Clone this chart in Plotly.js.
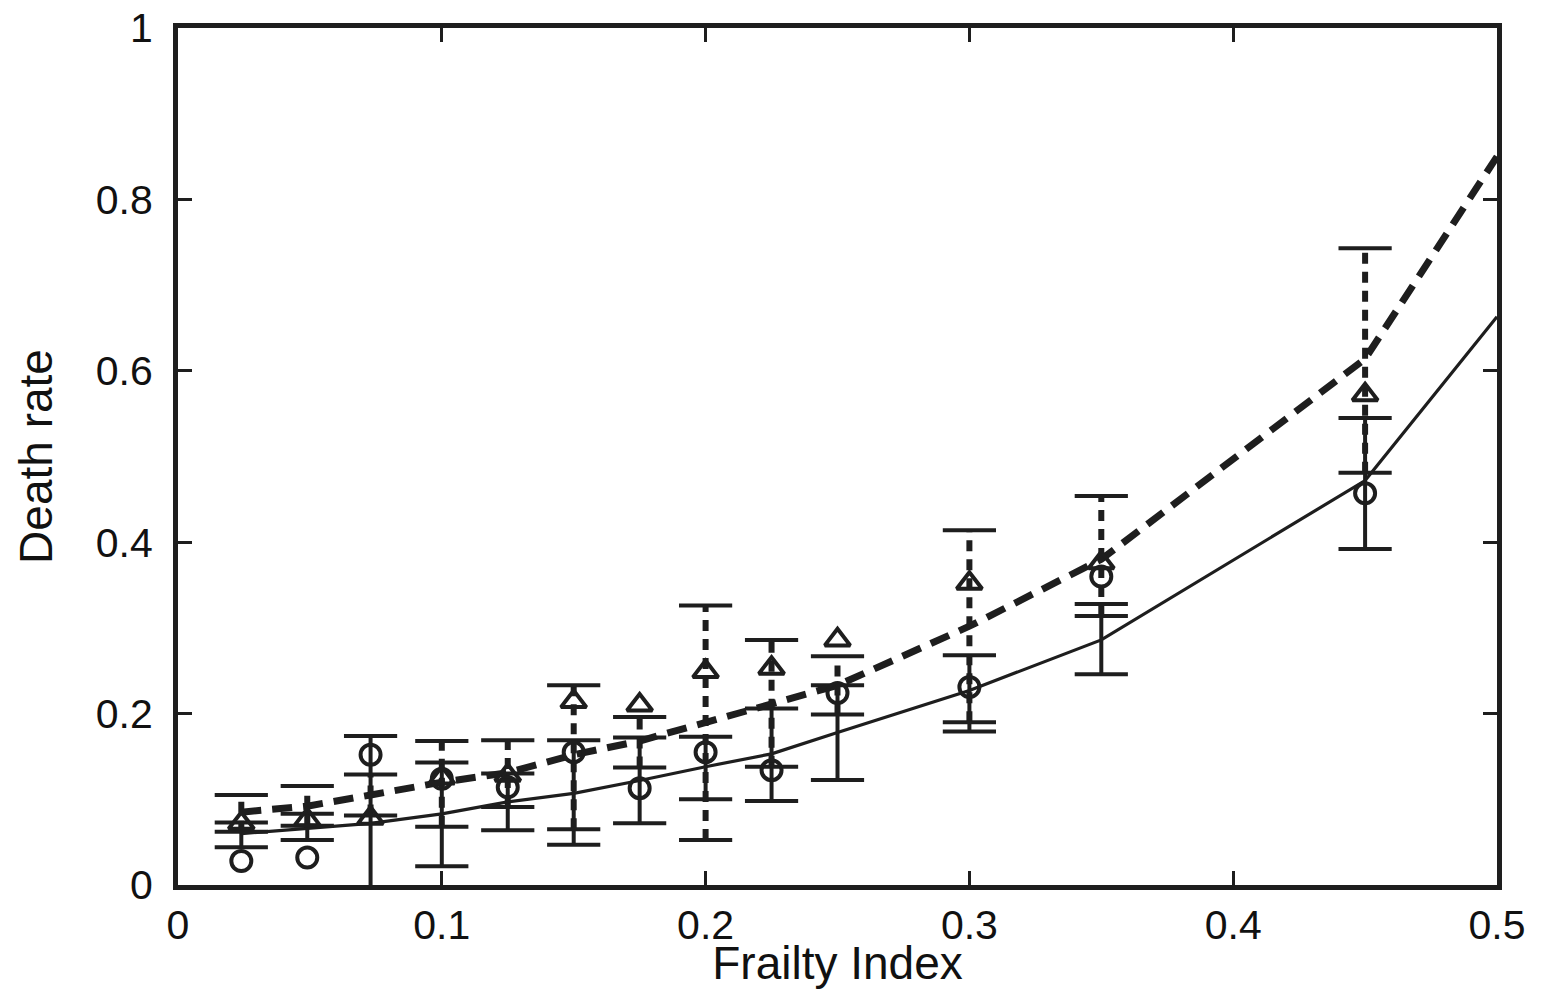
<!DOCTYPE html>
<html>
<head>
<meta charset="utf-8">
<script src="https://cdn.plot.ly/plotly-3.0.1.min.js"></script>
<style>html,body{margin:0;padding:0;background:#fff;}#chart{width:1543px;height:989px;}</style>
</head>
<body>
<div id="chart"></div>
<script>
// Frailty index values at which data are shown
const frailty = [0.024, 0.049, 0.073, 0.1, 0.125, 0.15, 0.175, 0.2, 0.225, 0.25, 0.3, 0.35, 0.45];
// Model curves (polylines), include end point at 0.5
const curveX = [0.024, 0.049, 0.073, 0.1, 0.125, 0.15, 0.175, 0.2, 0.225, 0.25, 0.3, 0.35, 0.45, 0.5];
const modelSolid  = [0.060, 0.066, 0.072, 0.083, 0.097, 0.107, 0.122, 0.138, 0.153, 0.178, 0.227, 0.286, 0.472, 0.663];
const modelDashed = [0.085, 0.092, 0.105, 0.120, 0.131, 0.152, 0.168, 0.189, 0.212, 0.233, 0.302, 0.380, 0.614, 0.850];
// Observed death rates
const observedCircles   = [0.028, 0.032, 0.152, 0.124, 0.114, 0.155, 0.113, 0.155, 0.134, 0.224, 0.231, 0.360, 0.457];
const observedTriangles = [0.072, 0.076, 0.078, 0.125, 0.128, 0.214, 0.210, 0.249, 0.253, 0.286, 0.352, 0.376, 0.572];
// Interval bounds around the solid model
const solidLow  = [0.044, 0.0525, -0.01, 0.022, 0.064, 0.047, 0.072, 0.100, 0.098, 0.1225, 0.179, 0.246, 0.392];
const solidHigh = [0.073, 0.083, 0.174, 0.143, 0.130, 0.169, 0.172, 0.173, 0.206, 0.233, 0.268, 0.328, 0.545];
// Interval bounds around the dashed model
const dashLow  = [0.062, 0.069, 0.081, 0.068, 0.091, 0.065, 0.137, 0.0525, 0.138, 0.199, 0.190, 0.314, 0.481];
const dashHigh = [0.105, 0.1155, 0.129, 0.168, 0.169, 0.233, 0.196, 0.326, 0.286, 0.267, 0.414, 0.454, 0.743];

const xTicks = [0, 0.1, 0.2, 0.3, 0.4, 0.5];
const yTicks = [0, 0.2, 0.4, 0.6, 0.8, 1];

const INK = '#1e1e1e';
const FONT = 'Liberation Sans, Arial, sans-serif';

function stems(xs, lo, hi) {
  const x = [], y = [];
  xs.forEach((v, i) => { x.push(v, v, null); y.push(lo[i], hi[i], null); });
  return {x, y};
}
function caps(xs, lo, hi) {
  const x = [], y = [];
  xs.forEach((v, i) => { x.push(v, v); y.push(lo[i], hi[i]); });
  return {x, y};
}

const sS = stems(frailty, solidLow, solidHigh);
const sC = caps(frailty, solidLow, solidHigh);
const dS = stems(frailty, dashLow, dashHigh);
const dC = caps(frailty, dashLow, dashHigh);

const traces = [
  {x: sS.x, y: sS.y, mode: 'lines', line: {color: INK, width: 4}, hoverinfo: 'skip', connectgaps: false},
  {x: sC.x, y: sC.y, mode: 'markers', marker: {symbol: 'line-ew', size: 38, line: {color: INK, width: 4}}, hoverinfo: 'skip'},
  {x: dS.x, y: dS.y, mode: 'lines', line: {color: INK, width: 6, dash: '11px,8px'}, hoverinfo: 'skip', connectgaps: false},
  {x: dC.x, y: dC.y, mode: 'markers', marker: {symbol: 'line-ew', size: 38, line: {color: INK, width: 4}}, hoverinfo: 'skip'},
  {x: curveX, y: modelSolid, mode: 'lines', line: {color: INK, width: 3.2}},
  {x: curveX, y: modelDashed, mode: 'lines', line: {color: INK, width: 7, dash: '20px,11px'}},
  {x: frailty, y: observedCircles, mode: 'markers', marker: {symbol: 'circle-open', size: 20, color: INK, line: {color: INK, width: 4}}},
  {x: frailty, y: observedTriangles, mode: 'markers', marker: {symbol: 'triangle-up-open', size: 22, color: INK, line: {color: INK, width: 4}}}
];

const axisCommon = {
  showline: true, linecolor: INK, linewidth: 5, mirror: 'ticks',
  ticks: 'inside', ticklen: 14, tickwidth: 3, tickcolor: INK,
  showgrid: false, zeroline: false,
  tickfont: {family: FONT, size: 41, color: '#111'}
};

const layout = {
  width: 1543, height: 989,
  margin: {l: 178, r: 46, t: 28, b: 104},
  paper_bgcolor: '#fff', plot_bgcolor: '#fff',
  showlegend: false,
  xaxis: Object.assign({}, axisCommon, {
    range: [0, 0.5], tickvals: xTicks, ticktext: xTicks.map(String),
    ticklabelstandoff: 0,
    title: {text: 'Frailty Index', standoff: 8, font: {family: FONT, size: 46, color: '#111'}}
  }),
  yaxis: Object.assign({}, axisCommon, {
    range: [0, 1], tickvals: yTicks, ticktext: yTicks.map(String),
    ticklabelstandoff: 12,
    title: {text: 'Death rate', standoff: 30, font: {family: FONT, size: 46, color: '#111'}}
  })
};

Plotly.newPlot('chart', traces, layout, {staticPlot: true, displayModeBar: false});
</script>
</body>
</html>
